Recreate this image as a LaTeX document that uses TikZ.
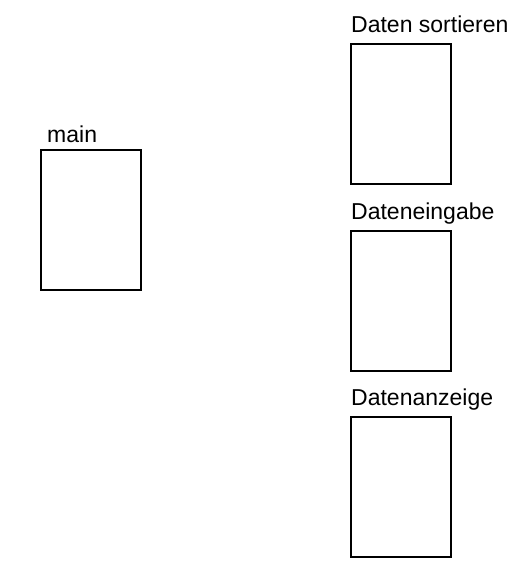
\documentclass[tikz,border=0pt]{standalone}
\usepackage{fontspec}
\setmainfont{Liberation Sans}
\usetikzlibrary{positioning}

\begin{document}
\begin{tikzpicture}[x=1pt,y=1pt,yscale=-1,xscale=1,
  modul/.style={draw, line width=1.5pt, minimum width=100pt, minimum height=140pt, inner sep=0pt},
  titel/.style={anchor=base west, inner sep=0pt, font=\fontsize{23}{27}\selectfont}]
\path[use as bounding box] (0,0) rectangle (529,566);

%Shape: Rectangle [main]
\node[modul] (main) at (91,220) {};
%Shape: Rectangle [sortieren]
\node[modul] (sortieren) at (401,114) {};
%Shape: Rectangle [eingabe]
\node[modul] (eingabe) at (401,301) {};
%Shape: Rectangle [anzeige]
\node[modul] (anzeige) at (401,487) {};

% Text Node
\node[titel] (mainText) at (47,142) {main};
% Text Node
\node[titel] (sortierenText) at (351,32) {Daten sortieren};
% Text Node
\node[titel] (eingabeText) at (351,219) {Dateneingabe};
% Text Node
\node[titel] (anzeigeText) at (351,405) {Datenanzeige};

\end{tikzpicture}
\end{document}
